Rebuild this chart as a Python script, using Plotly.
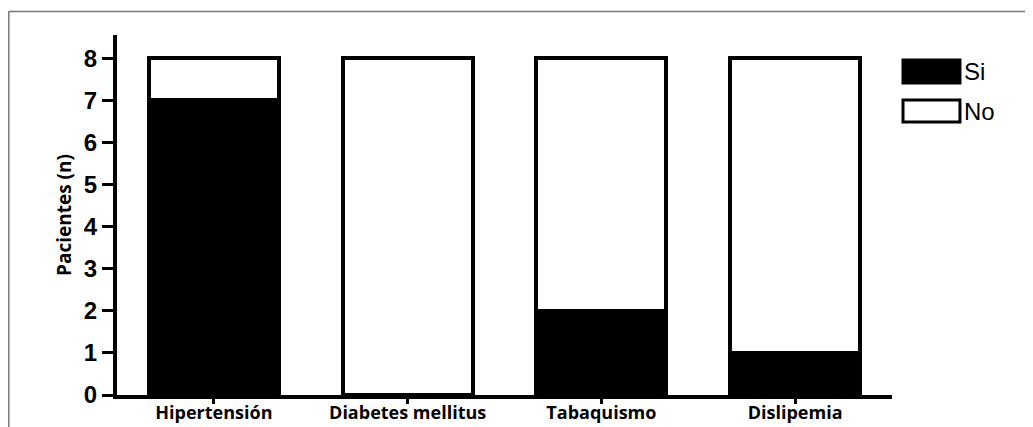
import plotly.graph_objects as go

categories = ["Hipertensión", "Diabetes mellitus", "Tabaquismo", "Dislipemia"]
series_names = ["Si", "No"]
si_values = [7, 0, 2, 1]
no_values = [1, 8, 6, 7]
y_ticks = [0, 1, 2, 3, 4, 5, 6, 7, 8]
y_title = "Pacientes (n)"

fig = go.Figure()
fig.add_trace(go.Bar(x=categories, y=si_values, name=series_names[0],
                     marker=dict(color="black", line=dict(color="black", width=4))))
fig.add_trace(go.Bar(x=categories, y=no_values, name=series_names[1],
                     marker=dict(color="white", line=dict(color="black", width=4))))

# page has an 8px body margin, so the figure is 8px smaller than the window
fig.update_layout(
    barmode="stack",
    bargap=0.33,
    width=1025, height=419,
    margin=dict(l=109, r=141, t=27, b=32, autoexpand=False),
    paper_bgcolor="white", plot_bgcolor="white",
    showlegend=False,
)
fig.update_xaxes(
    range=[-0.5, 3.5], showline=True, linecolor="black", linewidth=4,
    ticks="outside", ticklen=5, tickwidth=3, tickcolor="black",
    ticklabelstandoff=-7, automargin=False,
    tickfont=dict(family="Open Sans", size=18, color="black", weight="bold"),
    showgrid=False, zeroline=False,
)
fig.update_yaxes(
    range=[0, 8.55], tickvals=y_ticks, showline=True, linecolor="black", linewidth=4,
    ticks="outside", ticklen=11, tickwidth=3, tickcolor="black", automargin=False,
    tickfont=dict(family="Liberation Sans", size=24, color="black", weight="bold"),
    title=dict(text=y_title, standoff=8,
               font=dict(family="Open Sans", size=19, color="black", weight="bold")),
    showgrid=False, zeroline=False,
)

# outer frame (grey) like the reference image border
fig.add_shape(type="line", xref="paper", yref="paper", x0=-0.14, x1=1.2,
              y0=1.0653, y1=1.0653, line=dict(color="#777777", width=1.5))
fig.add_shape(type="line", xref="paper", yref="paper", x0=-0.1396, x1=-0.1396,
              y0=1.0653, y1=-0.2, line=dict(color="#777777", width=1.5))

# legend
legend_fill = ["black", "white"]
legend_y = [(0.8667, 0.9306), (0.7583, 0.8194)]
for name, fill, (y0, y1) in zip(series_names, legend_fill, legend_y):
    fig.add_shape(type="rect", xref="paper", yref="paper", x0=1.0142, x1=1.0877,
                  y0=y0, y1=y1, fillcolor=fill, line=dict(color="black", width=3))
    fig.add_annotation(xref="paper", yref="paper", x=1.0905, y=(y0 + y1) / 2,
                       text=name, showarrow=False, xanchor="left", yanchor="middle",
                       font=dict(family="Liberation Sans", size=24, color="black"))

fig.write_html("out.html")
